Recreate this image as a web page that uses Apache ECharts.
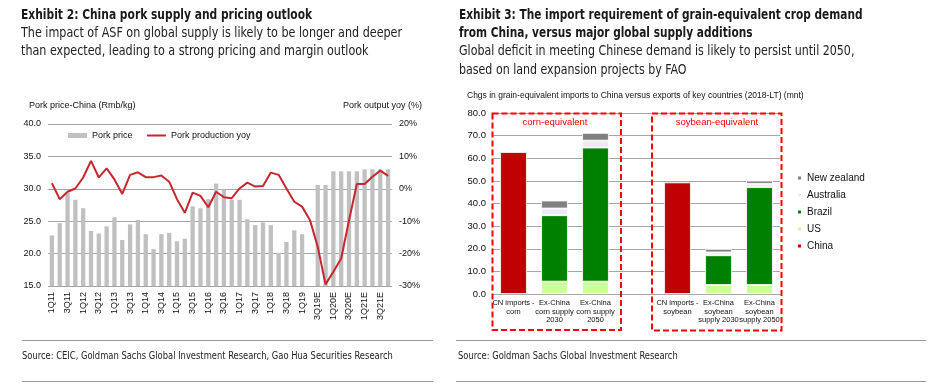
<!DOCTYPE html>
<html><head><meta charset="utf-8">
<script src="https://cdn.jsdelivr.net/npm/echarts@6/dist/echarts.min.js"></script>
<style>html,body{margin:0;padding:0;background:#fff}#c{width:941px;height:383px}</style>
</head><body><div id="c"></div>
<script>
// ---- Exhibit 2 data ----
const quarters = ['1Q11','2Q11','3Q11','4Q11','1Q12','2Q12','3Q12','4Q12','1Q13','2Q13','3Q13','4Q13',
  '1Q14','2Q14','3Q14','4Q14','1Q15','2Q15','3Q15','4Q15','1Q16','2Q16','3Q16','4Q16',
  '1Q17','2Q17','3Q17','4Q17','1Q18','2Q18','3Q18','4Q18','1Q19','2Q19','3Q19E','4Q19E',
  '1Q20E','2Q20E','3Q20E','4Q20E','1Q21E','2Q21E','3Q21E','4Q21E'];
const porkPrice = [22.8,24.7,29.4,28.3, 27.0,23.5,23.1,24.2, 25.6,22.1,24.5,25.2,
  23.0,20.7,23.0,23.2, 21.9,22.3,27.3,27.0, 28.4,30.8,29.9,28.3,
  28.3,25.3,24.4,24.8, 24.4,20.1,21.8,23.6, 23.0,null,30.6,30.6,
  32.7,32.7,32.7,32.7, 33.0,33.0,33.0,33.0];
const porkYoy = [1.7,-3.2,-0.9,0.1, 3.5,8.6,3.5,6.3, 2.9,-1.6,4.3,5.1,
  3.6,3.6,4.1,2.2, -3.2,-7.4,-1.2,-2.2, -5.7,-0.9,-2.6,-2.9,
  0.1,1.9,0.7,0.9, 5.0,4.3,0.1,-4.0, -5.5,-9.6,-17.9,-29.5,
  -25.6,-21.5,-9.8,1.5, 1.5,3.7,5.6,4.0];
const priceTicks = {min:15, max:40, interval:5};
const yoyTicks = {min:-30, max:20, interval:10};

// ---- Exhibit 3 data ----
const cropCats = ['CN imports -\ncorn','Ex-China\ncorn supply\n2030','Ex-China\ncorn supply\n2050','',
  'CN imports -\nsoybean','Ex-China\nsoybean\nsupply 2030','Ex-China\nsoybean\nsupply 2050'];
const chinaVals = [62.7,null,null,null,49.3,null,null];
const usVals = [null,5.5,5.5,null,null,4.0,4.0];
const brazilVals = [null,29.3,59.2,null,null,13.1,43.2];
const australiaVals = [null,3.0,3.1,null,null,1.3,1.5];
const nzVals = [null,3.5,3.4,null,null,1.5,1.4];
const cropTicks = {min:0, max:80, interval:10};

const TF = '"Liberation Sans Narrow","DejaVu Sans Condensed","Arial Narrow",sans-serif';
const AF = '"Liberation Sans",Arial,sans-serif';
const GRID = '#a6a6a6';

function txt(x, y, s, size, opts) {
  opts = opts || {};
  return {type:'text', x:x, y:y, z:50, scaleX:opts.sx||1, style:{text:s, fontSize:size, fontFamily:opts.ff||TF,
    fontWeight:opts.fw||'normal', fill:opts.fill||'#222', align:opts.align||'left', verticalAlign:'middle'}};
}

const chart = echarts.init(document.getElementById('c'));
const option = {
  backgroundColor:'#fff',
  animation:false,
  grid:[
    {left:48, top:124, width:344, height:162},
    {left:493, top:113, width:287, height:181}
  ],
  xAxis:[
    {type:'category', gridIndex:0, data:quarters, boundaryGap:true,
     axisLine:{lineStyle:{color:GRID}}, axisTick:{show:false},
     axisLabel:{interval:1, rotate:90, fontSize:9, fontFamily:AF, color:'#111', margin:6}},
    {type:'category', gridIndex:1, data:cropCats, boundaryGap:true,
     axisLine:{lineStyle:{color:GRID}}, axisTick:{show:false},
     axisLabel:{interval:0, fontSize:7.5, lineHeight:8.5, fontFamily:AF, color:'#111', margin:5}}
  ],
  yAxis:[
    {type:'value', gridIndex:0, min:priceTicks.min, max:priceTicks.max, interval:priceTicks.interval,
     axisLine:{show:false}, axisTick:{show:false},
     splitLine:{lineStyle:{color:GRID}},
     axisLabel:{formatter:v=>v.toFixed(1), fontSize:9, fontFamily:AF, color:'#111', margin:7}},
    {type:'value', gridIndex:0, position:'right', min:yoyTicks.min, max:yoyTicks.max, interval:yoyTicks.interval,
     axisLine:{show:false}, axisTick:{show:false}, splitLine:{show:false},
     axisLabel:{formatter:'{value}%', fontSize:9, fontFamily:AF, color:'#111', margin:7}},
    {type:'value', gridIndex:1, min:cropTicks.min, max:cropTicks.max, interval:cropTicks.interval,
     axisLine:{show:false}, axisTick:{show:false},
     splitLine:{lineStyle:{color:GRID}},
     axisLabel:{formatter:v=>v.toFixed(1), fontSize:9.5, fontFamily:AF, color:'#111', margin:7}}
  ],
  legend:[
    {data:['Pork price'], left:63, top:126, icon:'rect', itemWidth:19, itemHeight:5,
     textStyle:{fontSize:9, fontFamily:AF, color:'#111'}},
    {data:['Pork production yoy'], left:142, top:126, icon:'rect', itemWidth:19, itemHeight:2,
     textStyle:{fontSize:9, fontFamily:AF, color:'#111'}},
    {data:['New zealand','Australia','Brazil','US','China'], orient:'vertical', left:791, top:168,
     icon:'rect', itemWidth:5, itemHeight:5, itemGap:7,
     textStyle:{fontSize:10, fontFamily:AF, color:'#111'}}
  ],
  series:[
    {name:'Pork price', type:'bar', xAxisIndex:0, yAxisIndex:0, data:porkPrice, barWidth:'55%',
     itemStyle:{color:'#c0c0c0'}},
    {name:'Pork production yoy', type:'line', xAxisIndex:0, yAxisIndex:1, data:porkYoy,
     showSymbol:false, symbol:'none', connectNulls:true, lineStyle:{color:'#c8262e', width:2}, itemStyle:{color:'#c8262e'}},
    {name:'China', type:'bar', xAxisIndex:1, yAxisIndex:2, stack:'s', data:chinaVals, barWidth:'65%',
     itemStyle:{color:'#c00000', borderColor:'#fff', borderWidth:0.8}},
    {name:'US', type:'bar', xAxisIndex:1, yAxisIndex:2, stack:'s', data:usVals,
     itemStyle:{color:'#ccff99', borderColor:'#fff', borderWidth:0.8}},
    {name:'Brazil', type:'bar', xAxisIndex:1, yAxisIndex:2, stack:'s', data:brazilVals,
     itemStyle:{color:'#008000', borderColor:'#fff', borderWidth:0.8}},
    {name:'Australia', type:'bar', xAxisIndex:1, yAxisIndex:2, stack:'s', data:australiaVals,
     itemStyle:{color:'#ebebf5', borderColor:'#fff', borderWidth:0.8}},
    {name:'New zealand', type:'bar', xAxisIndex:1, yAxisIndex:2, stack:'s', data:nzVals,
     itemStyle:{color:'#808080', borderColor:'#fff', borderWidth:0.8}}
  ],
  graphic:[
    txt(21, 15, 'Exhibit 2: China pork supply and pricing outlook', 14, {fw:'bold', fill:'#1a1a1a', sx:0.85}),
    txt(21, 33.5, 'The impact of ASF on global supply is likely to be longer and deeper', 13.5, {sx:0.92}),
    txt(21, 51, 'than expected, leading to a strong pricing and margin outlook', 13.5, {sx:0.92}),
    txt(459, 15, 'Exhibit 3: The import requirement of grain-equivalent crop demand', 14, {fw:'bold', fill:'#1a1a1a', sx:0.84}),
    txt(459, 33.5, 'from China, versus major global supply additions', 14, {fw:'bold', fill:'#1a1a1a', sx:0.84}),
    txt(459, 51.5, 'Global deficit in meeting Chinese demand is likely to persist until 2050,', 13.5, {sx:0.91}),
    txt(459, 70, 'based on land expansion projects by FAO', 13.5, {sx:0.91}),
    txt(29, 106, 'Pork price-China (Rmb/kg)', 9, {ff:AF, fill:'#111'}),
    txt(422, 106, 'Pork output yoy (%)', 9, {ff:AF, fill:'#111', align:'right'}),
    txt(467, 96, 'Chgs in grain-equivalent imports to China versus exports of key countries (2018-LT) (mnt)', 8.5, {ff:AF, fill:'#111'}),
    txt(555, 122.5, 'corn-equivalent', 9.5, {ff:AF, fill:'#ff0000', align:'center'}),
    txt(717, 122.5, 'soybean-equivalent', 9.5, {ff:AF, fill:'#ff0000', align:'center'}),
    {type:'rect', z:40, shape:{x:492.5, y:113.5, width:128.5, height:216.5},
     style:{fill:'none', stroke:'#ff0000', lineWidth:2, lineDash:[6,3]}},
    {type:'rect', z:40, shape:{x:652, y:113.5, width:129.5, height:217},
     style:{fill:'none', stroke:'#ff0000', lineWidth:2, lineDash:[6,3]}},
    {type:'line', z:40, shape:{x1:22, y1:340.5, x2:433, y2:340.5}, style:{stroke:'#999', lineWidth:1}},
    {type:'line', z:40, shape:{x1:456, y1:340.5, x2:926, y2:340.5}, style:{stroke:'#999', lineWidth:1}},
    {type:'line', z:40, shape:{x1:22, y1:381.5, x2:433, y2:381.5}, style:{stroke:'#999', lineWidth:1}},
    {type:'line', z:40, shape:{x1:456, y1:381.5, x2:926, y2:381.5}, style:{stroke:'#999', lineWidth:1}},
    txt(22, 356, 'Source: CEIC, Goldman Sachs Global Investment Research, Gao Hua Securities Research', 10, {sx:0.93}),
    txt(458, 356, 'Source: Goldman Sachs Global Investment Research', 10, {sx:0.93})
  ]
};
chart.setOption(option);
</script>
</body></html>
